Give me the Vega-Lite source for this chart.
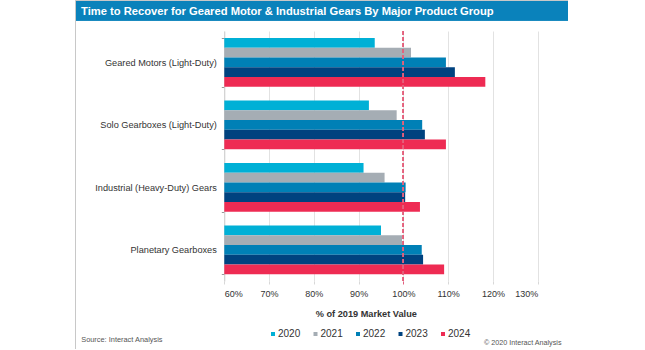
{
  "$schema": "https://vega.github.io/schema/vega-lite/v6.json",
  "autosize": {"type": "none"},
  "padding": {"left": 75, "top": 0, "right": 0, "bottom": 0},
  "background": "white",
  "width": 493,
  "height": 349,
  "config": {"font": "Liberation Sans"},
  "view": {
    "stroke": "#c8c8c8",
    "fill": {"gradient": "linear", "x1": 0, "y1": 0, "x2": 0, "y2": 1, "stops": [
      {"offset": 0, "color": "#0a82bb"},
      {"offset": 0.0573, "color": "#0a82bb"},
      {"offset": 0.0574, "color": "#ffffff"},
      {"offset": 1, "color": "#ffffff"}
    ]}
  },
  "title": {"text": "Time to Recover for Geared Motor & Industrial Gears By Major Product Group", "orient": "top", "anchor": "start", "frame": "group", "fontSize": 11.2, "fontWeight": "bold", "color": "white", "offset": -17.5, "dx": 6, "dy": 14.5, "baseline": "bottom"},
  "data": {"values": [
    {"group": "Geared Motors (Light-Duty)", "year": "2020", "value": 93.6},
    {"group": "Geared Motors (Light-Duty)", "year": "2021", "value": 101.7},
    {"group": "Geared Motors (Light-Duty)", "year": "2022", "value": 109.5},
    {"group": "Geared Motors (Light-Duty)", "year": "2023", "value": 111.5},
    {"group": "Geared Motors (Light-Duty)", "year": "2024", "value": 118.3},
    {"group": "Solo Gearboxes (Light-Duty)", "year": "2020", "value": 92.3},
    {"group": "Solo Gearboxes (Light-Duty)", "year": "2021", "value": 98.5},
    {"group": "Solo Gearboxes (Light-Duty)", "year": "2022", "value": 104.2},
    {"group": "Solo Gearboxes (Light-Duty)", "year": "2023", "value": 104.8},
    {"group": "Solo Gearboxes (Light-Duty)", "year": "2024", "value": 109.5},
    {"group": "Industrial (Heavy-Duty) Gears", "year": "2020", "value": 91.1},
    {"group": "Industrial (Heavy-Duty) Gears", "year": "2021", "value": 95.8},
    {"group": "Industrial (Heavy-Duty) Gears", "year": "2022", "value": 100.5},
    {"group": "Industrial (Heavy-Duty) Gears", "year": "2023", "value": 100.4},
    {"group": "Industrial (Heavy-Duty) Gears", "year": "2024", "value": 103.7},
    {"group": "Planetary Gearboxes", "year": "2020", "value": 95.0},
    {"group": "Planetary Gearboxes", "year": "2021", "value": 99.7},
    {"group": "Planetary Gearboxes", "year": "2022", "value": 104.1},
    {"group": "Planetary Gearboxes", "year": "2023", "value": 104.4},
    {"group": "Planetary Gearboxes", "year": "2024", "value": 109.1}
  ]},
  "layer": [
    {
      "mark": {"type": "bar", "opacity": 0},
      "encoding": {
        "y": {
          "field": "group", "type": "nominal", "sort": null,
          "scale": {"range": [31, 281], "paddingInner": 0.22, "paddingOuter": 0.11},
          "axis": {"title": "© 2020 Interact Analysis", "titleAngle": 0, "titleAlign": "right", "titleBaseline": "alphabetic", "titleX": 336.7, "titleY": 344, "titleFontSize": 7.2, "titleFontWeight": "normal", "titleColor": "#555", "tickBand": "extent", "ticks": true, "tickSize": 3, "tickColor": "#999", "domain": true, "domainColor": "#cfcfcf", "grid": false, "labelFontSize": 9.2, "labelColor": "#333", "labelPadding": 5, "offset": -149.3}
        },
        "yOffset": {"field": "year", "type": "nominal", "scale": {"paddingInner": 0, "paddingOuter": 0}},
        "x": {
          "field": "value", "type": "quantitative",
          "scale": {"domain": [60, 130], "range": [149.3, 462.7], "zero": false, "nice": false},
          "axis": {
            "orient": "top",
            "values": [60, 70, 80, 90, 100, 110, 120, 130],
            "grid": true,
            "gridColor": "#e2e2e2",
            "ticks": false,
            "labels": false,
            "domain": false,
            "title": "Source: Interact Analysis",
            "titleX": 5.7,
            "titleY": 341.3,
            "titleAlign": "left",
            "titleBaseline": "alphabetic",
            "titleFontSize": 7.4,
            "titleFontWeight": "normal",
            "titleColor": "#555"
          }
        }
      }
    },
    {
      "mark": {"type": "bar"},
      "encoding": {
        "y": {"field": "group", "type": "nominal", "sort": null, "scale": {"range": [31, 281], "paddingInner": 0.22, "paddingOuter": 0.11}, "axis": null},
        "yOffset": {"field": "year", "type": "nominal", "scale": {"paddingInner": 0, "paddingOuter": 0}},
        "x": {
          "field": "value", "type": "quantitative",
          "scale": {"domain": [60, 130], "range": [149.3, 462.7], "zero": false, "nice": false},
          "axis": {
            "orient": "bottom",
            "values": [60, 70, 80, 90, 100, 110, 120, 130],
            "labelExpr": "datum.value + '%'",
            "grid": false,
            "tickColor": {"condition": {"test": "datum.value === 100", "value": "#e2607f"}, "value": "#d8d8d8"},
            "tickSize": 3,
            "domain": false,
            "labelFontSize": 9,
            "labelColor": "#333",
            "labelPadding": 5,
            "offset": -68,
            "title": "% of 2019 Market Value",
            "titleFontSize": 9.2,
            "titleFontWeight": "bold",
            "titleColor": "#333",
            "titleX": 290.8,
            "titleY": 35.5,
            "titleBaseline": "alphabetic"
          }
        },
        "x2": {"datum": 60},
        "color": {
          "field": "year", "type": "nominal",
          "scale": {"domain": ["2020", "2021", "2022", "2023", "2024"], "range": ["#00b0d6", "#a5adb4", "#0080b6", "#00427f", "#ee2b53"]},
          "legend": {"orient": "none", "legendX": 193, "legendY": 329, "direction": "horizontal", "title": null, "symbolType": "square", "symbolSize": 16, "symbolStrokeWidth": 0, "labelFontSize": 10, "labelColor": "#333", "labelOffset": 0, "columnPadding": 9.5, "padding": 0}
        }
      }
    },
    {
      "mark": {"type": "rule", "color": "#e2607f", "strokeDash": [4, 2], "strokeWidth": 1},
      "encoding": {
        "x": {"datum": 100, "type": "quantitative", "axis": null},
        "y": {"datum": 0, "type": "quantitative", "scale": {"domain": [0, 1], "range": [31, 283]}, "axis": null},
        "y2": {"datum": 1}
      }
    }
  ],
  "resolve": {"axis": {"x": "independent"}, "scale": {"y": "independent"}}
}
